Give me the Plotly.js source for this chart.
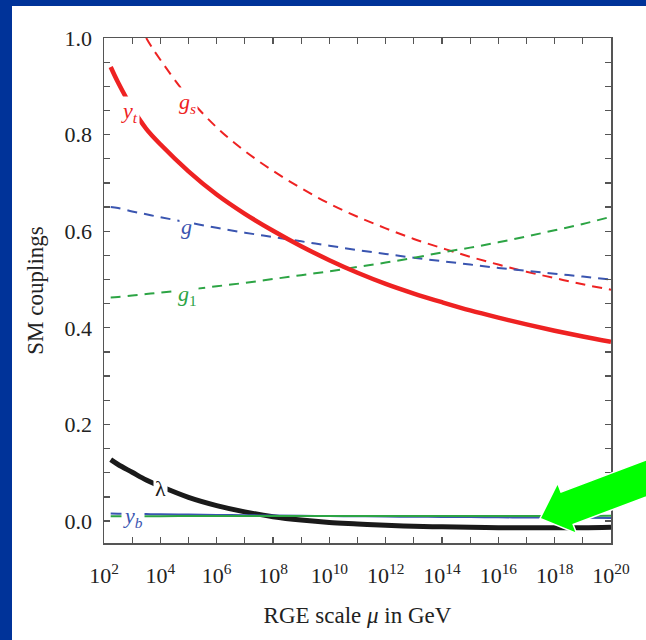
<!DOCTYPE html>
<html>
<head>
<meta charset="utf-8">
<script src="https://cdn.plot.ly/plotly-3.0.1.min.js"></script>
<style>
  html, body { margin: 0; padding: 0; width: 646px; height: 640px; overflow: hidden; background: #003399; }
  #plot { position: absolute; left: 12px; top: 6px; width: 634px; height: 634px; background: #ffffff; }
</style>
</head>
<body>
<div id="plot"></div>
<script>
// RGE scale mu in GeV (starting at the top mass)
const scaleGeV = [173, 316.2, 1e3, 3162, 1e4, 1e5, 1e6, 1e7, 1e8, 1e9, 1e10, 1e11, 1e12, 1e13, 1e14, 1e15, 1e16, 1e17, 1e18, 1e19, 1e20];
// couplings
const yTop  = [0.940, 0.908, 0.855, 0.812, 0.780, 0.724, 0.676, 0.636, 0.601, 0.569, 0.540, 0.514, 0.491, 0.471, 0.453, 0.436, 0.421, 0.407, 0.394, 0.382, 0.371];
const gS    = [1.16, 1.13, 1.06, 1.00, 0.955, 0.877, 0.815, 0.766, 0.725, 0.689, 0.657, 0.630, 0.606, 0.584, 0.565, 0.547, 0.531, 0.516, 0.503, 0.490, 0.479];
const gW    = [0.650, 0.648, 0.641, 0.635, 0.629, 0.618, 0.607, 0.597, 0.588, 0.579, 0.570, 0.561, 0.553, 0.545, 0.538, 0.531, 0.524, 0.518, 0.512, 0.506, 0.500];
const gY    = [0.463, 0.464, 0.467, 0.470, 0.473, 0.479, 0.486, 0.493, 0.501, 0.509, 0.517, 0.526, 0.535, 0.545, 0.556, 0.566, 0.577, 0.589, 0.602, 0.615, 0.630];
const lam   = [0.127, 0.117, 0.101, 0.085, 0.072, 0.049, 0.032, 0.019, 0.009, 0.002, -0.003, -0.006, -0.009, -0.011, -0.012, -0.013, -0.014, -0.014, -0.014, -0.014, -0.013];
const yBot  = [0.0155, 0.0153, 0.0148, 0.0144, 0.0140, 0.0133, 0.0126, 0.0120, 0.0114, 0.0108, 0.0103, 0.0098, 0.0093, 0.0089, 0.0085, 0.0081, 0.0077, 0.0073, 0.0069, 0.0066, 0.0062];
const yTau  = [0.0100, 0.0100, 0.0101, 0.0101, 0.0101, 0.0102, 0.0102, 0.0102, 0.0103, 0.0103, 0.0103, 0.0104, 0.0104, 0.0104, 0.0105, 0.0105, 0.0105, 0.0106, 0.0106, 0.0106, 0.0107];

// tick labels
const xTickVals  = [1e2, 1e4, 1e6, 1e8, 1e10, 1e12, 1e14, 1e16, 1e18, 1e20];
const xTickText  = ['10<sup>2</sup>','10<sup>4</sup>','10<sup>6</sup>','10<sup>8</sup>','10<sup>10</sup>','10<sup>12</sup>','10<sup>14</sup>','10<sup>16</sup>','10<sup>18</sup>','10<sup>20</sup>'];
const xMinorVals = [1e3, 1e5, 1e7, 1e9, 1e11, 1e13, 1e15, 1e17, 1e19];
const yTickVals  = [0, 0.2, 0.4, 0.6, 0.8, 1.0];
const yTickText  = ['0.0', '0.2', '0.4', '0.6', '0.8', '1.0'];

// curve labels
const labelText = ['<i>y</i><sub><i>t</i></sub>', '<i>g</i><sub><i>s</i></sub>', '<i>g</i>', '<i>g</i><sub>1</sub>', 'λ', '<i>y</i><sub><i>b</i></sub>'];
const labelGeV  = [8.3e2, 9.5e4, 8.7e4, 9.5e4, 9.8e3, 1.07e3];
const labelY    = [0.847, 0.865, 0.609, 0.467, 0.068, 0.008];
const labelCol  = ['#ee2222', '#ee2222', '#3a55b0', '#2ca444', '#1a1a1a', '#3a55b0'];

const RED = '#ee2222', BLUE = '#3a55b0', GREEN = '#2ca444', BLACK = '#1a1a1a';

const traces = [
  {x: scaleGeV, y: gS, mode: 'lines', line: {color: RED, width: 2, dash: '10px,7px', shape: 'spline'}},
  {x: scaleGeV, y: gW, mode: 'lines', line: {color: BLUE, width: 2, dash: '10px,7px', shape: 'spline'}},
  {x: scaleGeV, y: gY, mode: 'lines', line: {color: GREEN, width: 2, dash: '10px,7px', shape: 'spline'}},
  {x: scaleGeV, y: yTop, mode: 'lines', line: {color: RED, width: 4.5, shape: 'spline'}},
  {x: scaleGeV, y: lam, mode: 'lines', line: {color: BLACK, width: 5, shape: 'spline'}},
  {x: scaleGeV, y: yBot, mode: 'lines', line: {color: BLUE, width: 2, shape: 'spline'}},
  {x: scaleGeV, y: yTau, mode: 'lines', line: {color: GREEN, width: 2, shape: 'spline'}}
];

const annotations = labelText.map((t, i) => ({
  x: Math.log10(labelGeV[i]), y: labelY[i], xref: 'x', yref: 'y',
  text: t, showarrow: false, bgcolor: '#ffffff', borderpad: 1,
  font: {family: 'Liberation Serif, serif', size: 22, color: labelCol[i]}
}));

// green pointer arrow (figure pixel coordinates -> paper)
const PL = 104, PT = 38, PW = 507, PH = 505;
const arrowPx = [[540,518.5],[576.6,533.5],[573.2,524.5],[667.7,488.8],[655.5,456.4],[561.0,492.1],[557.6,483.1]];
const toPaper = p => [((p[0]-PL)/PW).toFixed(5), ((PT+PH-p[1])/PH).toFixed(5)];
const arrowPath = 'M' + arrowPx.map(p => toPaper(p).join(',')).join(' L') + ' Z';

const axisCommon = {
  showline: true, linecolor: '#555555', linewidth: 1.5, mirror: 'ticks',
  ticks: 'inside', ticklen: 6, tickwidth: 1.3, tickcolor: '#555555',
  showgrid: false, zeroline: false,
  tickfont: {family: 'Liberation Serif, serif', size: 22, color: '#222222'}
};

const layout = {
  width: 634, height: 634,
  margin: {l: 92, r: 35, t: 32, b: 97},
  paper_bgcolor: '#ffffff', plot_bgcolor: '#ffffff',
  showlegend: false, hovermode: false,
  xaxis: Object.assign({}, axisCommon, {
    type: 'log', range: [2, 20], tickmode: 'array', tickvals: xTickVals, ticktext: xTickText,
    minor: {tickmode: 'array', tickvals: xMinorVals, ticks: 'inside', ticklen: 6, tickwidth: 1.3, tickcolor: '#555555', showgrid: false},
    ticklabelstandoff: 12,
    title: {text: 'RGE scale <i>μ</i> in GeV', standoff: 20, font: {family: 'Liberation Serif, serif', size: 23, color: '#222222'}}
  }),
  yaxis: Object.assign({}, axisCommon, {
    range: [-0.0455, 1.0], tickmode: 'array', tickvals: yTickVals, ticktext: yTickText,
    minor: {dtick: 0.05, ticks: 'inside', ticklen: 6, tickwidth: 1.3, tickcolor: '#555555', showgrid: false},
    ticklabelstandoff: 6,
    title: {text: 'SM couplings', standoff: 14, font: {family: 'Liberation Serif, serif', size: 23, color: '#222222'}}
  }),
  annotations: annotations,
  shapes: [{type: 'path', xref: 'paper', yref: 'paper', path: arrowPath, fillcolor: '#00ff00', line: {color: '#ffffff', width: 1.5}, layer: 'above'}]
};

Plotly.newPlot('plot', traces, layout, {displayModeBar: false, staticPlot: true});
</script>
</body>
</html>
